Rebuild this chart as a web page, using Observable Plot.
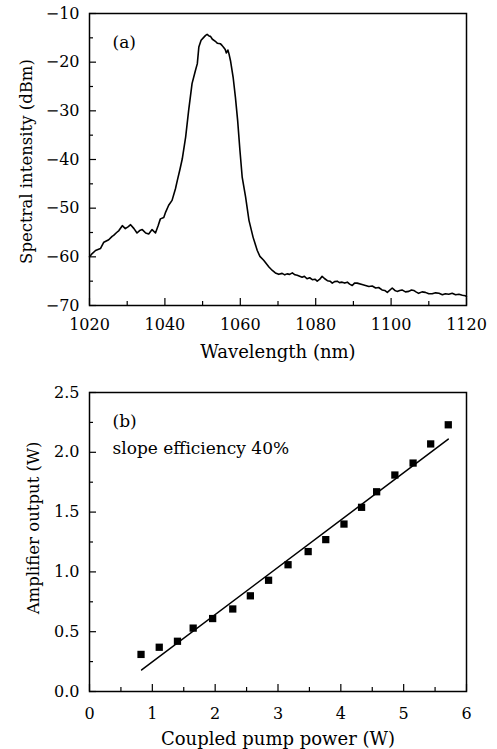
<!DOCTYPE html>
<html><head><meta charset="utf-8">
<script src="https://cdn.jsdelivr.net/npm/d3@7"></script>
<script src="https://cdn.jsdelivr.net/npm/@observablehq/plot@0.6"></script>
<style>body{margin:0;background:#fff}#chart svg{display:block}</style>
</head><body><div id="chart"></div>
<script>
// ---- Panel (a): spectrum ----
const wavelength = [1020.0,1020.5,1021.6,1022.9,1023.8,1025.1,1026.0,1026.4,1027.2,1027.8,1028.7,1029.5,1030.3,1030.9,1031.8,1032.6,1033.3,1034.0,1034.9,1035.7,1036.6,1037.5,1038.2,1038.8,1039.7,1040.2,1041.0,1041.9,1042.8,1043.3,1044.0,1044.6,1045.5,1046.3,1047.2,1048.1,1048.6,1049.0,1049.6,1050.3,1050.8,1051.2,1051.7,1052.1,1052.6,1053.0,1053.5,1053.9,1054.7,1055.2,1055.6,1056.0,1056.3,1056.7,1057.0,1057.4,1058.1,1058.7,1059.3,1059.9,1060.5,1061.4,1062.3,1063.4,1064.5,1065.2,1066.2,1067.6,1068.5,1069.3,1070.2,1071.1,1071.8,1072.4,1073.1,1073.8,1074.5,1075.1,1076.4,1077.0,1077.7,1078.4,1079.1,1079.8,1080.4,1081.1,1081.7,1082.4,1083.1,1083.8,1084.4,1085.0,1085.7,1086.3,1087.0,1087.7,1088.4,1089.0,1089.7,1090.3,1091.0,1092.3,1093.2,1094.1,1095.0,1095.9,1096.7,1097.6,1098.3,1099.0,1100.3,1101.0,1101.6,1102.3,1102.9,1103.8,1104.7,1105.4,1106.0,1106.6,1107.3,1108.2,1109.1,1110.0,1110.9,1111.8,1112.7,1113.6,1114.4,1115.3,1116.2,1117.1,1118.0,1118.9,1119.7,1120.0];
const intensity = [-60.0,-59.5,-58.7,-58.3,-57.0,-56.5,-55.8,-55.6,-55.0,-54.6,-53.6,-54.2,-53.8,-53.4,-54.2,-55.1,-54.6,-54.4,-55.1,-55.3,-54.4,-55.1,-53.6,-52.2,-51.9,-50.8,-49.4,-48.4,-46.0,-44.3,-42.0,-39.9,-35.4,-29.9,-24.4,-21.7,-20.3,-16.9,-15.5,-14.9,-14.5,-14.3,-14.6,-14.7,-15.3,-15.5,-15.8,-16.1,-16.2,-16.6,-17.0,-17.4,-18.1,-17.5,-18.3,-19.7,-23.1,-27.2,-32.0,-38.1,-43.6,-47.7,-52.5,-56.0,-58.7,-59.9,-60.7,-62.1,-62.8,-63.3,-63.6,-63.4,-63.7,-63.5,-63.6,-63.3,-63.7,-63.8,-64.2,-64.0,-64.5,-64.3,-64.7,-64.6,-65.0,-64.6,-64.0,-64.5,-64.9,-65.0,-65.4,-65.1,-65.0,-65.3,-65.2,-65.4,-65.2,-65.6,-65.9,-65.4,-65.4,-65.7,-65.9,-66.1,-66.0,-66.4,-66.3,-66.8,-66.9,-67.3,-66.4,-66.9,-67.1,-66.9,-66.8,-67.2,-67.1,-66.8,-66.9,-67.2,-67.5,-67.2,-67.3,-67.6,-67.6,-67.4,-67.5,-67.8,-67.6,-67.7,-67.5,-67.8,-67.7,-67.9,-68.0,-68.2];
const aXMajor = [1020,1040,1060,1080,1100,1120];
const aXMinor = [1030,1050,1070,1090,1110];
const aYMajor = [-70,-60,-50,-40,-30,-20,-10];
const aYMinor = [-65,-55,-45,-35,-25,-15];
const aXLabel = "Wavelength (nm)";
const aYLabel = "Spectral intensity (dBm)";
const aTag = "(a)";

// ---- Panel (b): amplifier output ----
const pumpPower = [0.82,1.11,1.40,1.65,1.96,2.28,2.56,2.85,3.16,3.48,3.76,4.05,4.33,4.57,4.86,5.15,5.43,5.71];
const outputPower = [0.31,0.37,0.42,0.53,0.61,0.69,0.80,0.93,1.06,1.17,1.27,1.40,1.54,1.67,1.81,1.91,2.07,2.23];
const fitX = [0.83,5.71];
const fitY = [0.18,2.11];
const bXMajor = [0,1,2,3,4,5,6];
const bXMinor = [0.5,1.5,2.5,3.5,4.5,5.5];
const bYMajor = [0,0.5,1.0,1.5,2.0,2.5];
const bYMinor = [0.25,0.75,1.25,1.75,2.25];
const bXLabel = "Coupled pump power (W)";
const bYLabel = "Amplifier output (W)";
const bTag = "(b)";
const bNote = "slope efficiency 40%";

const W = 497, ML = 89, MR = 31;
const FW = W - ML - MR;
const font = "DejaVu Serif";
const minus = d => d < 0 ? "\u2212" + Math.abs(d) : String(d);

function ticks(xMaj, xMin, yMaj, yMin, FH) {
  return [
    Plot.tickX(xMaj, {x: d => d, insetTop: FH - 7, stroke: "black", strokeWidth: 1.2}),
    Plot.tickX(xMin, {x: d => d, insetTop: FH - 4, stroke: "black", strokeWidth: 1.2}),
    Plot.tickY(yMaj, {y: d => d, insetRight: FW - 7, stroke: "black", strokeWidth: 1.2}),
    Plot.tickY(yMin, {y: d => d, insetRight: FW - 4, stroke: "black", strokeWidth: 1.2})
  ];
}

// Top
const HA = 365, MTA = 13, MBA = 60;
const FHA = HA - MTA - MBA;
const a = Plot.plot({
  width: W, height: HA, marginLeft: ML, marginRight: MR, marginTop: MTA, marginBottom: MBA,
  style: {fontFamily: font, fontSize: "16px", background: "white", color: "black"},
  x: {domain: [1020, 1120]},
  y: {domain: [-70, -10]},
  marks: [
    ...ticks(aXMajor, aXMinor, aYMajor, aYMinor, FHA),
    Plot.axisX(aXMajor, {anchor: "bottom", tickSize: 0, tickPadding: 13.5, label: null, fontSize: 16, tickFormat: d => String(d)}),
    Plot.axisY(aYMajor, {anchor: "left", tickSize: 0, tickPadding: 10, label: null, fontSize: 16, tickFormat: minus}),
    Plot.line(wavelength.map((w, i) => ({w, v: intensity[i]})), {x: "w", y: "v", stroke: "black", strokeWidth: 1.6}),
    Plot.frame({stroke: "black", strokeWidth: 1.5}),
    Plot.text([aTag], {text: d => d, frameAnchor: "top-left", dx: 23, dy: 34, lineAnchor: "bottom", textAnchor: "start", fontSize: 17}),
    Plot.text([aXLabel], {text: d => d, frameAnchor: "bottom", dy: 52, lineAnchor: "bottom", fontSize: 18}),
    Plot.text([aYLabel], {text: d => d, frameAnchor: "left", rotate: -90, dx: -58, dy: 2, lineAnchor: "bottom", textAnchor: "middle", fontSize: 16.5})
  ]
});

// Bottom
const HB = 384, MTB = 27, MBB = 58;
const FHB = HB - MTB - MBB;
const b = Plot.plot({
  width: W, height: HB, marginLeft: ML, marginRight: MR, marginTop: MTB, marginBottom: MBB,
  style: {fontFamily: font, fontSize: "16px", background: "white", color: "black"},
  x: {domain: [0, 6]},
  y: {domain: [0, 2.5]},
  marks: [
    ...ticks(bXMajor, bXMinor, bYMajor, bYMinor, FHB),
    Plot.axisX(bXMajor, {anchor: "bottom", tickSize: 0, tickPadding: 16, label: null, fontSize: 16, tickFormat: d => String(d)}),
    Plot.axisY(bYMajor, {anchor: "left", tickSize: 0, tickPadding: 10, label: null, fontSize: 16, tickFormat: d3.format(".1f")}),
    Plot.line(fitX.map((x, i) => ({x, y: fitY[i]})), {x: "x", y: "y", stroke: "black", strokeWidth: 1.5}),
    Plot.dot(pumpPower.map((x, i) => ({x, y: outputPower[i]})), {x: "x", y: "y", symbol: "square", r: 4.1, fill: "black", stroke: "none"}),
    Plot.frame({stroke: "black", strokeWidth: 1.5}),
    Plot.text([bTag], {text: d => d, frameAnchor: "top-left", dx: 23, dy: 34, lineAnchor: "bottom", textAnchor: "start", fontSize: 17}),
    Plot.text([bNote], {text: d => d, frameAnchor: "top-left", dx: 23, dy: 61, lineAnchor: "bottom", textAnchor: "start", fontSize: 17}),
    Plot.text([bXLabel], {text: d => d, frameAnchor: "bottom", dy: 53, lineAnchor: "bottom", fontSize: 18}),
    Plot.text([bYLabel], {text: d => d, frameAnchor: "left", rotate: -90, dx: -50.5, dy: -14, lineAnchor: "bottom", textAnchor: "middle", fontSize: 16.5})
  ]
});

document.getElementById("chart").append(a, b);
</script>
</body></html>
